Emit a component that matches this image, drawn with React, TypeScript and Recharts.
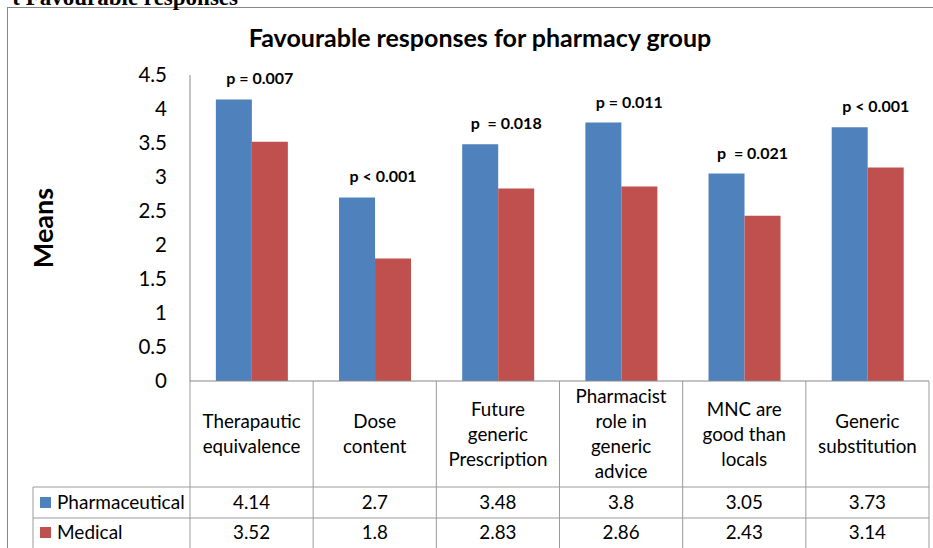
import React from 'react';
import { BarChart, Bar, XAxis, YAxis, LabelList, Customized } from 'recharts';

// ---------- data ----------
const categories = [
  'Therapautic\nequivalence',
  'Dose\ncontent',
  'Future\ngeneric\nPrescription',
  'Pharmacist\nrole in\ngeneric\nadvice',
  'MNC are\ngood than\nlocals',
  'Generic\nsubstitution',
];
const pharmaceutical = [4.14, 2.7, 3.48, 3.8, 3.05, 3.73];
const medical = [3.52, 1.8, 2.83, 2.86, 2.43, 3.14];
const pLabels = ['p = 0.007', 'p < 0.001', 'p  = 0.018', 'p = 0.011', 'p  = 0.021', 'p < 0.001'];
const yTicks = [0, 0.5, 1, 1.5, 2, 2.5, 3, 3.5, 4, 4.5];
const seriesNames = ['Pharmaceutical', 'Medical'];
const seriesKeys = ['pharmaceutical', 'medical'];
const seriesValues = [pharmaceutical, medical];
const seriesColors = ['#4F81BD', '#C0504D'];
const chartTitle = 'Favourable responses for pharmacy group';
const yAxisTitle = 'Means';
const pageHeading = 't Favourable responses';

const data = categories.map((c, i) => ({
  category: c,
  pharmaceutical: pharmaceutical[i],
  medical: medical[i],
  p: pLabels[i],
}));

// ---------- layout ----------
const W = 933;
const H = 548;
const PLOT_LEFT = 190;
const PLOT_RIGHT = 929;
const PLOT_TOP = 75;
const PLOT_BOTTOM = 381;
const BAND = (PLOT_RIGHT - PLOT_LEFT) / categories.length;
const HEADER_BOTTOM = 487;
const ROW2_TOP = 518;
const TABLE_BOTTOM = 548;
const TABLE_LEFT = 33;
const FONT = 'Lato, "Open Sans", sans-serif';
const LINE = '#9b9b9b';
const AXIS = '#878787';
const TABLE_FS = 18.8;

const TableTick = (props: any) => {
  const { x, payload } = props;
  const i = props.index ?? payload.index ?? 0;
  const half = BAND / 2;
  const lines = String(payload.value).split('\n');
  const headerCenter = (PLOT_BOTTOM + HEADER_BOTTOM) / 2;
  const lh = 25;
  const firstCenter = headerCenter - ((lines.length - 1) * lh) / 2;
  const rowCenters = [(HEADER_BOTTOM + ROW2_TOP) / 2, (ROW2_TOP + 547) / 2];
  return (
    <g>
      <line x1={x - half} x2={x - half} y1={PLOT_BOTTOM} y2={TABLE_BOTTOM} stroke={LINE} strokeWidth={1} />
      {i === categories.length - 1 && (
        <line x1={x + half} x2={x + half} y1={PLOT_BOTTOM} y2={TABLE_BOTTOM} stroke={LINE} strokeWidth={1} />
      )}
      {lines.map((ln, k) => (
        <text key={k} x={x} y={firstCenter + k * lh + 6.5} textAnchor="middle" fontSize={TABLE_FS} fontFamily={FONT} fill="#000">
          {ln}
        </text>
      ))}
      {seriesValues.map((vals, r) => (
        <text key={'v' + r} x={x} y={rowCenters[r] + 6.5} textAnchor="middle" fontSize={TABLE_FS} fontFamily={FONT} fill="#000">
          {String(vals[i])}
        </text>
      ))}
    </g>
  );
};

const Decorations = () => (
  <g>
    <rect x={7.5} y={7.5} width={W + 20} height={H + 20} fill="none" stroke={AXIS} strokeWidth={1} />
    <text x={238} y={5} textAnchor="end" fontFamily='"Liberation Serif", serif' fontWeight="bold" fontSize={23} fill="#000">
      {pageHeading}
    </text>
    <text x={480} y={47} textAnchor="middle" fontFamily={FONT} fontWeight="bold" fontSize={25} fill="#000">
      {chartTitle}
    </text>
    <text
      x={53}
      y={(PLOT_TOP + PLOT_BOTTOM) / 2}
      textAnchor="middle"
      transform={`rotate(-90 53 ${(PLOT_TOP + PLOT_BOTTOM) / 2})`}
      fontFamily={FONT}
      fontWeight="bold"
      fontSize={27}
      fill="#000"
    >
      {yAxisTitle}
    </text>
    {/* table horizontal lines */}
    <line x1={TABLE_LEFT} x2={PLOT_RIGHT} y1={HEADER_BOTTOM} y2={HEADER_BOTTOM} stroke={LINE} />
    <line x1={TABLE_LEFT} x2={PLOT_RIGHT} y1={ROW2_TOP} y2={ROW2_TOP} stroke={LINE} />
    <line x1={TABLE_LEFT} x2={TABLE_LEFT} y1={HEADER_BOTTOM} y2={TABLE_BOTTOM} stroke={LINE} />
    {seriesNames.map((name, r) => {
      const cy = r === 0 ? (HEADER_BOTTOM + ROW2_TOP) / 2 : (ROW2_TOP + 547) / 2;
      return (
        <g key={name}>
          <rect x={40} y={cy - 5.5} width={11} height={11} fill={seriesColors[r]} />
          <text x={57} y={cy + 6.5} fontFamily={FONT} fontSize={19} fill="#000">
            {name}
          </text>
        </g>
      );
    })}
  </g>
);

const PLabel = (props: any) => {
  const { x, y, width, value } = props;
  return (
    <text
      x={x + width + 8}
      y={y - 15}
      textAnchor="middle"
      fontFamily={FONT}
      fontWeight="bold"
      fontSize={16}
      fill="#000"
      style={{ whiteSpace: 'pre' }}
    >
      {value}
    </text>
  );
};

export default function App() {
  return (
    <div style={{ position: 'absolute', left: 0, top: 0, width: W, height: H, overflow: 'hidden', background: '#fff' }}>
      <BarChart
        width={W}
        height={H}
        data={data}
        margin={{ top: PLOT_TOP, right: W - PLOT_RIGHT, bottom: 0, left: 0 }}
        barGap={0}
        barCategoryGap="21%"
      >
        <Customized component={Decorations} />
        <YAxis
          width={PLOT_LEFT}
          domain={[0, 4.5]}
          ticks={yTicks}
          interval={0}
          tickLine={false}
          tickSize={0}
          tickMargin={23}
          axisLine={{ stroke: AXIS }}
          tick={{ fontSize: 20.5, fontFamily: FONT, fill: '#000' }}
        />
        <XAxis
          dataKey="category"
          height={H - PLOT_BOTTOM}
          interval={0}
          tickLine={false}
          tickSize={0}
          tickMargin={0}
          axisLine={{ stroke: AXIS }}
          tick={<TableTick />}
        />
        {seriesKeys.map((k, r) => (
          <Bar key={k} dataKey={k} name={seriesNames[r]} fill={seriesColors[r]} isAnimationActive={false}>
            {r === 0 && <LabelList dataKey="p" content={<PLabel />} />}
          </Bar>
        ))}
      </BarChart>
    </div>
  );
}
